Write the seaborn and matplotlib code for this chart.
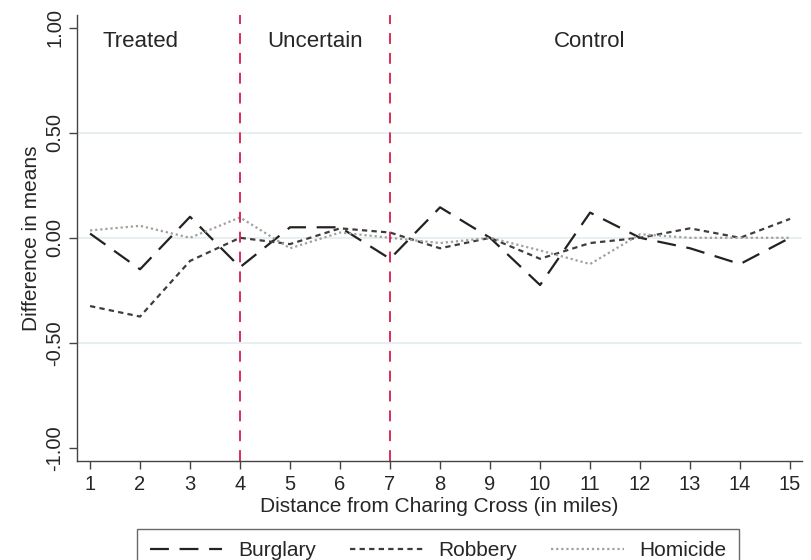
import pandas as pd
import matplotlib
matplotlib.use('Agg')
import matplotlib.pyplot as plt
import seaborn as sns

# distance bands (miles) and difference in means per crime type
distance = list(range(1, 16))
burglary = [0.02, -0.15, 0.10, -0.14, 0.05, 0.05, -0.10, 0.145, 0.0, -0.225, 0.12, 0.0, -0.05, -0.125, 0.0]
robbery = [-0.325, -0.375, -0.11, 0.0, -0.03, 0.045, 0.025, -0.05, 0.0, -0.10, -0.025, 0.0, 0.045, 0.0, 0.09]
homicide = [0.035, 0.057, 0.0, 0.097, -0.05, 0.025, 0.0, -0.025, 0.0, -0.06, -0.125, 0.017, 0.0, 0.0, 0.0]

series_names = ['Burglary', 'Robbery', 'Homicide']
series_colors = ['#222222', '#3d3d3d', '#a0a0a0']
y_ticks = [-1.0, -0.5, 0.0, 0.5, 1.0]
y_tick_labels = ['-1.00', '-0.50', '0.00', '0.50', '1.00']
cutoffs = [4, 7]
regions = ['Treated', 'Uncertain', 'Control']
region_x = [2, 5.5, 11]

df = pd.DataFrame({
    'Distance': distance * 3,
    'Diff': burglary + robbery + homicide,
    'Crime': [n for n in series_names for _ in distance],
})

sns.set_style('white')
plt.rcParams['font.family'] = ['Liberation Sans', 'DejaVu Sans']

fig = plt.figure(figsize=(8.11, 5.6), dpi=100)
ax = fig.add_axes([0.095, 0.177, 0.894, 0.796])

# light reference gridlines
for y in [-0.5, 0.0, 0.5]:
    ax.axhline(y, color='#e6eef1', lw=1.3, zorder=0)

sns.lineplot(data=df, x='Distance', y='Diff', hue='Crime', style='Crime',
             hue_order=series_names, style_order=series_names,
             palette=dict(zip(series_names, series_colors)),
             dashes={'Burglary': (8.5, 4.8), 'Robbery': (2.4, 1.9), 'Homicide': (1.0, 1.3)},
             linewidth=1.6, ax=ax)

for c in cutoffs:
    ax.axvline(c, color='#d81b4a', lw=1.3, dashes=(6, 5))

for name, x in zip(regions, region_x):
    ax.text(x, 0.935, name, ha='center', va='center', fontsize=16)

ax.set_xlim(0.74, 15.24)
ax.set_ylim(-1.062, 1.06)
ax.set_xticks(distance)
ax.set_yticks(y_ticks)
ax.set_yticklabels(y_tick_labels, rotation=90, va='center')
ax.tick_params(axis='both', which='major', direction='out', length=6, width=1,
               color='#444444', labelsize=14.5, bottom=True, left=True)
ax.tick_params(axis='x', pad=4)
ax.tick_params(axis='y', pad=3)
ax.set_xlabel('Distance from Charing Cross (in miles)', fontsize=15, labelpad=2)
ax.set_ylabel('Difference in means', fontsize=15, labelpad=3)

sns.despine(ax=ax, top=True, right=True)
for side in ['left', 'bottom']:
    ax.spines[side].set_color('#444444')
    ax.spines[side].set_linewidth(1)

ax.get_legend().remove()
handles, labels = ax.get_legend_handles_labels()
leg = fig.legend(handles, labels, loc='upper left', bbox_to_anchor=(0.169, 0.0554),
                 ncol=3, frameon=True, fancybox=False, fontsize=15,
                 handlelength=3.5, handletextpad=0.77, columnspacing=1.6,
                 borderpad=0.6, borderaxespad=0, edgecolor='#444444')
leg.get_frame().set_linewidth(1)

plt.savefig('out.png', dpi=100)
